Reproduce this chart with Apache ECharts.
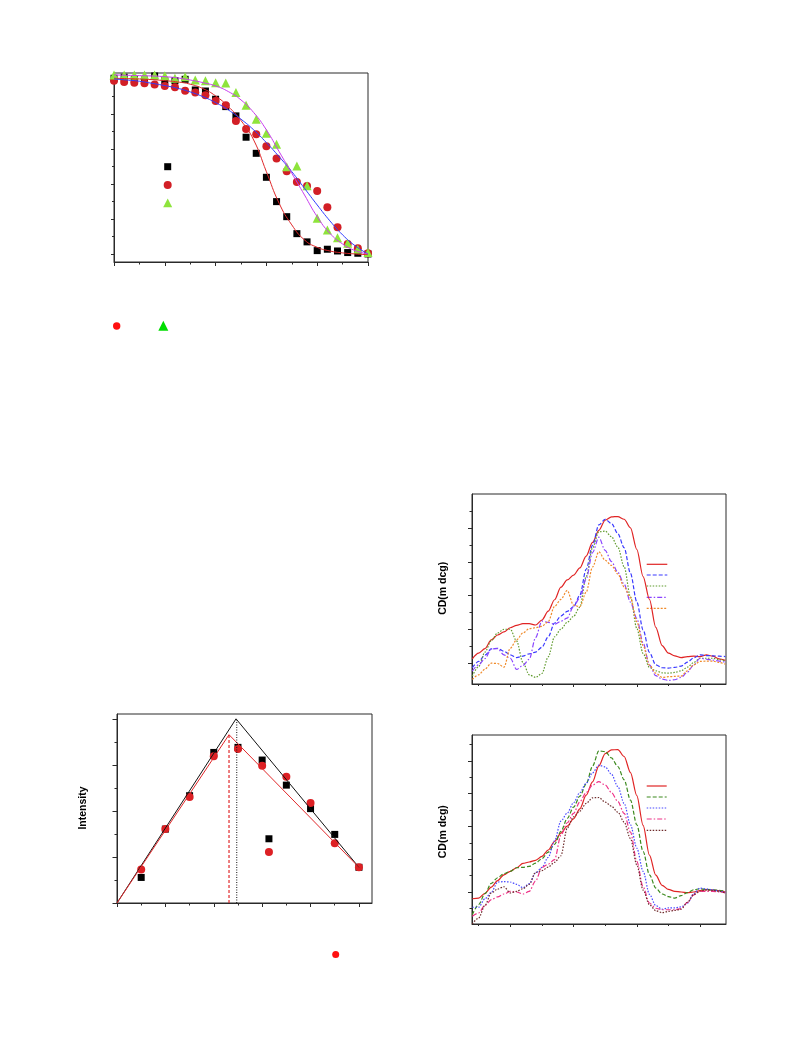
<!DOCTYPE html>
<html><head><meta charset="utf-8">
<script src="https://cdn.jsdelivr.net/npm/echarts@6/dist/echarts.min.js"></script>
<style>html,body{margin:0;padding:0;background:#fff}#c{width:793px;height:1057px}</style>
</head><body><div id="c"></div>
<script>
// ---------- Panel A (top-left): normalized decay data + fitted curves ----------
const aX = [0,0.4,0.8,1.2,1.6,2,2.4,2.8,3.2,3.6,4,4.4,4.8,5.2,5.6,6,6.4,6.8,7.2,7.6,8,8.4,8.8,9.2,9.6,10];
const aSquares = [1.004,1.010,0.998,0.994,1.017,0.990,0.990,0.998,0.937,0.931,0.884,0.842,0.789,0.667,0.575,0.438,0.299,0.213,0.116,0.069,0.019,0.027,0.017,0.008,0.004,0.000];
const aCircles = [0.990,0.983,0.979,0.975,0.968,0.960,0.952,0.933,0.922,0.907,0.874,0.850,0.760,0.714,0.684,0.615,0.545,0.472,0.411,0.389,0.360,0.267,0.152,0.057,0.032,0.004];
const aTriangles = [1.023,1.023,1.023,1.023,1.023,1.019,1.004,1.013,0.994,0.990,0.979,0.977,0.922,0.850,0.770,0.690,0.627,0.499,0.503,0.390,0.204,0.137,0.093,0.061,0.027,0.008];
const aFitX = [0,0.5,1,1.5,2,2.5,3,3.5,4,4.5,5,5.5,6,6.5,7,7.5,8,8.5,9,9.5,10];
const aFitRed = [1.004,1.002,1.0,0.996,0.99,0.983,0.97,0.945,0.903,0.842,0.762,0.651,0.47,0.29,0.166,0.08,0.038,0.017,0.006,0,-0.004];
const aFitBlue = [1.0,0.994,0.987,0.975,0.962,0.947,0.926,0.899,0.865,0.823,0.77,0.709,0.636,0.556,0.47,0.375,0.28,0.189,0.109,0.046,0];
const aFitMagenta = [1.023,1.021,1.019,1.017,1.013,1.006,0.994,0.979,0.96,0.928,0.88,0.808,0.709,0.585,0.461,0.337,0.213,0.118,0.057,0.019,0];
const aXMajor = [0,2,4,6,8,10], aXMinor = [1,3,5,7,9];
const aYMajor = [0,0.2,0.4,0.6,0.8,1.0], aYMinor = [0.1,0.3,0.5,0.7,0.9];

// ---------- Panel B (bottom-left): Intensity ----------
const bX = [1,2,3,4,5,6,6.28,7,8,9,10];
const bSquares = [1.11,3.21,4.66,6.54,6.76,6.21,2.79,5.12,4.10,2.98,1.55];
const bCircles = [1.45,3.21,4.60,6.37,6.69,5.96,2.21,5.48,4.34,2.60,1.55];
const bBlackLineX = [0,4.92,10], bBlackLineY = [0,8.0,1.55];
const bRedLineX = [0,4.63,10], bRedLineY = [0,7.31,1.55];
const bBlackPeakX = 4.95, bBlackPeakY = 7.95;
const bRedPeakX = 4.63, bRedPeakY = 7.31;
const bXMajor = [0,2,4,6,8,10], bXMinor = [1,3,5,7,9];
const bYMajor = [0,2,4,6,8], bYMinor = [1,3,5,7];

// ---------- Panels C and D (right): CD spectra ----------
const wl = [188,190,192,194,196,198,200,202,204,206,208,210,212,214,216,218,220,222,224,226,228,230,232,234,236,238,240,242,244,246,248,250,252,254,256,258,260,262,264,266,268];
const cRed = [2.7,6.1,8.8,13.9,16.8,18.6,21.1,22.5,23.5,23.5,22.7,25.6,30.9,37.6,45.0,49.3,52.1,56.4,63.4,71.4,78.5,84.5,86.5,86.7,85.1,80.0,67.3,51.3,37.8,21.3,10.6,6.1,4.5,3.5,4.1,4.3,4.1,5.1,4.3,2.7,1.8];
const cBlue = [-2.5,1.2,4.9,8.6,9.0,7.2,5.1,3.5,4.3,5.7,6.7,9.6,15.7,23.9,28.0,30.7,33.5,40.3,55.6,69.7,81.8,85.1,82.6,76.7,68.3,53.2,36.4,19.8,6.5,-0.8,-2.5,-2.7,-2.3,-1.6,0.8,3.3,5.1,4.7,4.5,4.3,4.1];
const cOlive = [-7.4,-1.8,6.7,13.5,18.0,20.2,20.2,13.3,0.6,-6.7,-8.2,-5.9,3.9,15.7,20.2,24.3,27.8,33.3,51.3,68.3,77.7,78.1,74.8,68.7,57.1,39.3,20.7,5.9,-2.3,-4.3,-5.5,-5.7,-5.3,-4.3,-2.2,0.6,3.1,3.1,3.1,2.3,1.6];
const cViolet = [-4.5,-0.8,2.9,8.6,8.8,5.1,3.1,-3.5,-1.2,2.5,15.3,25.0,24.3,23.1,24.9,26.8,33.7,38.7,49.9,65.4,74.5,66.7,60.1,53.8,46.8,36.2,26.6,12.1,-0.8,-7.2,-9.2,-10.0,-9.6,-8.2,-5.1,-0.8,3.1,2.5,2.0,1.4,0.8];
const cOrange = [-9.4,-6.7,-3.3,0.2,0,-2.2,9.0,13.9,18.0,20.5,21.1,21.9,24.7,33.7,37.8,43.1,34.4,33.5,42.1,56.9,65.9,60.9,57.9,52.8,45.2,38.9,24.7,10.6,-1.0,-5.7,-8.2,-7.8,-7.6,-7.4,-4.3,-0.8,1.2,1.4,1.4,0.6,-0.4];
const dRed = [-4.1,-3.7,-0.8,3.0,6.9,10.5,12.6,14.8,17.4,18.3,19.3,21.7,25.6,30.8,35.9,40.2,44.6,50.7,59.0,67.1,76.9,84.4,86.6,86.8,82.6,72.8,58.8,40.6,22.5,10.3,4.1,1.6,0.4,0,-0.4,0,0.8,1.4,1.2,0.8,0];
const dGreen = [-13.8,-7.7,-1.0,5.3,8.7,11.2,12.6,14.8,15.0,15.6,17.6,20.3,24.3,29.0,36.9,44.8,51.7,58.4,65.9,76.7,86.0,85.6,81.7,76.5,68.4,56.0,41.0,24.7,10.5,2.4,-1.2,-2.8,-3.7,-2.2,-0.4,1.4,2.0,1.6,1.4,1.0,0.4];
const dBlue = [-9.3,-9.3,-4.1,-0.2,6.1,6.3,6.1,4.7,2.6,5.1,11.6,15.0,21.1,31.2,43.2,48.1,54.4,60.6,66.3,72.6,77.3,76.3,71.8,64.3,54.0,41.0,26.8,12.6,-1.4,-8.3,-10.5,-9.7,-9.7,-9.1,-6.9,-1.0,2.4,1.8,1.4,0.6,-0.2];
const dPink = [-14.8,-12.8,-8.1,-4.7,-3.0,-1.2,0.4,0,-1.2,0.4,6.7,15.0,17.0,19.7,34.5,42.2,47.9,55.0,60.6,65.1,67.3,65.3,60.6,55.2,47.9,36.5,18.7,3.0,-6.7,-9.9,-10.8,-10.8,-10.8,-10.1,-6.3,-1.8,0.4,0.4,0.4,0,-0.6];
const dBrown = [-19.5,-15.8,-8.1,-0.6,1.8,3.2,-0.6,0.4,2.0,4.7,12.0,13.0,15.2,18.1,22.1,38.9,45.8,49.3,54.0,57.4,57.6,54.8,52.3,48.7,42.6,32.5,16.6,1.2,-7.7,-11.4,-12.6,-11.8,-11.2,-10.5,-6.3,-1.6,0.6,1.2,1.0,0.4,-0.6];
const cdXMajor = [200,220,240,260], cdXMinor = [190,210,230,250];
const cYMajor = [0,20,40,60,80], cYMinor = [10,30,50,70,90];
const dYMajor = [0,20,40,60,80], dYMinor = [-10,10,30,50,70,90];

const AX = '#2a2a2a';
function axes(dim, g, min, max, majors, minors, lenMaj, lenMin) {
  const pos = dim === 'x' ? 'bottom' : 'left';
  const base = {type:'value', gridIndex:g, position:pos, min:min, max:max,
    axisLabel:{show:false}, splitLine:{show:false}};
  return [
    Object.assign({}, base, {axisLine:{show:true, onZero:false, lineStyle:{color:AX, width:1}},
      axisTick:{show:true, customValues:majors, length:lenMaj, lineStyle:{color:AX, width:1}}}),
    Object.assign({}, base, {axisLine:{show:false, onZero:false},
      axisTick:{show:true, customValues:minors, length:lenMin, lineStyle:{color:AX, width:1}}})
  ];
}
const zip = (xs, ys) => xs.map((x, i) => [x, ys[i]]);

const grids = [
  {left:114, top:73, width:254, height:189},
  {left:117, top:714, width:255, height:189},
  {left:472, top:494, width:254, height:190},
  {left:472, top:735, width:254, height:189}
].map(g => Object.assign(g, {show:true, borderColor:AX, borderWidth:1, backgroundColor:'transparent', containLabel:false}));

const xAxis = [].concat(
  axes('x',0,0,10,aXMajor,aXMinor,4,2.5),
  axes('x',1,0,10.54,bXMajor,bXMinor,4,2.5),
  axes('x',2,187.9,268.2,cdXMajor,cdXMinor,3,2),
  axes('x',3,187.9,268.2,cdXMajor,cdXMinor,3,2)
);
const yAxis = [].concat(
  axes('y',0,-0.046,1.034,aYMajor,aYMinor,3,2),
  axes('y',1,0,8.21,bYMajor,bYMinor,4.5,2.5),
  axes('y',2,-12.1,100,cYMajor,cYMinor,4,2.5),
  axes('y',3,-19.5,95.7,dYMajor,dYMinor,4,2.5)
);

function scatter(g, xs, ys, symbol, size, color) {
  return {type:'scatter', xAxisIndex:2*g, yAxisIndex:2*g, data:zip(xs, ys), symbol:symbol,
    symbolSize:size, itemStyle:{color:color, opacity:1}, clip:false, z:2, silent:true};
}
function line(g, xs, ys, color, width, dash, smooth, mono) {
  const s = {type:'line', xAxisIndex:2*g, yAxisIndex:2*g, data:zip(xs, ys), showSymbol:false,
    symbol:'none', smooth:smooth, lineStyle:{color:color, width:width, type:dash, opacity:1}, z:3, silent:true, animation:false};
  if (mono) s.smoothMonotone = 'x';
  return s;
}

const series = [
  scatter(0, aX, aSquares, 'rect', 7, '#000000'),
  scatter(0, aX, aCircles, 'circle', 8, '#d21f26'),
  scatter(0, aX, aTriangles, 'triangle', 9, '#8ee43c'),
  line(0, aFitX, aFitRed, '#e0282a', 1, 'solid', true, false),
  line(0, aFitX, aFitBlue, '#2f3cff', 1, 'solid', true, false),
  line(0, aFitX, aFitMagenta, '#c93cf0', 1, 'solid', true, false),

  line(1, bBlackLineX, bBlackLineY, '#111111', 1, 'solid', false, false),
  line(1, bRedLineX, bRedLineY, '#e0282a', 1, 'solid', false, false),
  line(1, [bBlackPeakX,bBlackPeakX], [0,bBlackPeakY], '#111111', 1, [1,1.5], false, false),
  line(1, [bRedPeakX,bRedPeakX], [0,bRedPeakY], '#e0282a', 1.2, [3,2], false, false),
  scatter(1, bX, bSquares, 'rect', 7, '#000000'),
  scatter(1, bX, bCircles, 'circle', 8, '#dd2024'),

  line(2, wl, cRed, '#e02424', 1.2, 'solid', 0.3, true),
  line(2, wl, cBlue, '#3a3aff', 1.2, [4,2], 0.3, true),
  line(2, wl, cOlive, '#5f9a2c', 1.2, [1.5,1.5], 0.3, true),
  line(2, wl, cViolet, '#8a44ff', 1.2, [5,2,1.5,2], 0.3, true),
  line(2, wl, cOrange, '#f08a2a', 1.2, [2,1.5], 0.3, true),

  line(3, wl, dRed, '#e02424', 1.2, 'solid', 0.3, true),
  line(3, wl, dGreen, '#3c8a1e', 1.2, [4,2], 0.3, true),
  line(3, wl, dBlue, '#4a4aff', 1.2, [1.5,1.5], 0.3, true),
  line(3, wl, dPink, '#ee3388', 1.2, [5,2,1.5,2], 0.3, true),
  line(3, wl, dBrown, '#6e2b2b', 1.2, [1.5,1.5], 0.3, true)
];

function legLine(x1, x2, y, color, dash) {
  return {type:'line', shape:{x1:x1, y1:y, x2:x2, y2:y}, style:{stroke:color, lineWidth:1.2, lineDash:dash}, silent:true};
}
function vtext(x, y, t) {
  return {type:'text', x:x, y:y, rotation:Math.PI/2,
    style:{text:t, font:'bold 10.5px "Liberation Sans", Arial, sans-serif', fill:'#000', align:'center', verticalAlign:'middle'}};
}
const graphic = [
  {type:'rect', shape:{x:164.2, y:163.2, width:7, height:7}, style:{fill:'#000'}},
  {type:'circle', shape:{cx:167.7, cy:185, r:4}, style:{fill:'#d21f26'}},
  {type:'polygon', shape:{points:[[163.2,207.2],[172.2,207.2],[167.7,198.4]]}, style:{fill:'#8ee43c'}},
  {type:'circle', shape:{cx:116.7, cy:326, r:3.7}, style:{fill:'#ff1010'}},
  {type:'polygon', shape:{points:[[158.3,330.7],[168.3,330.7],[163.3,320.7]]}, style:{fill:'#00dd00'}},
  {type:'circle', shape:{cx:335.7, cy:954.5, r:3.5}, style:{fill:'#ff1010'}},
  legLine(646.7, 667.3, 564.3, '#e02424', null),
  legLine(646.7, 667.3, 575, '#3a3aff', [4,2]),
  legLine(646.7, 667.3, 586, '#5f9a2c', [1.5,1.5]),
  legLine(646.7, 667.3, 597.3, '#8a44ff', [5,2,1.5,2]),
  legLine(646.7, 667.3, 608.3, '#f08a2a', [2,1.5]),
  legLine(646.7, 666.7, 786, '#e02424', null),
  legLine(646.7, 666.7, 797, '#3c8a1e', [4,2]),
  legLine(646.7, 666.7, 808, '#4a4aff', [1.5,1.5]),
  legLine(646.7, 666.7, 819, '#ee3388', [5,2,1.5,2]),
  legLine(646.7, 666.7, 830.3, '#6e2b2b', [1.5,1.5]),
  vtext(82.7, 808, 'Intensity'),
  vtext(442.7, 588.3, 'CD(m dcg)'),
  vtext(442.7, 831.7, 'CD(m dcg)')
];

const chart = echarts.init(document.getElementById('c'), null, {renderer:'canvas', width:793, height:1057});
chart.setOption({animation:false, backgroundColor:'#ffffff', grid:grids, xAxis:xAxis, yAxis:yAxis, series:series, graphic:graphic});
</script>
</body></html>
